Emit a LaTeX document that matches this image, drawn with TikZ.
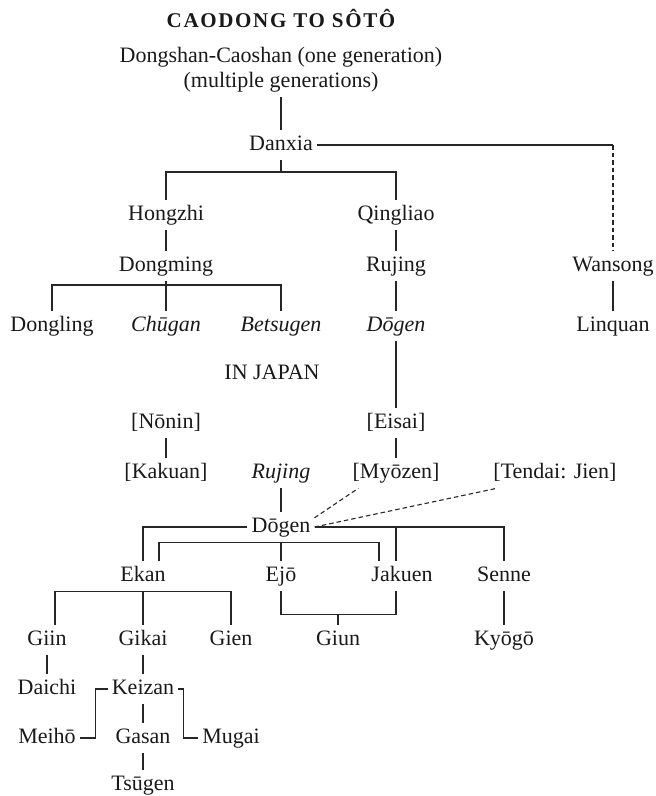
\documentclass[tikz,border=0pt]{standalone}
\usepackage{fontspec}
\setmainfont{Liberation Serif}
\usepackage{tikz}
\usetikzlibrary{calc}

\begin{document}
\begin{tikzpicture}[x=1pt,y=-1pt,
    nm/.style={anchor=base,font=\fontsize{22}{26}\selectfont,text=black!90,text height=15pt,text depth=5pt,inner xsep=4pt,inner ysep=5pt},
    it/.style={nm,font=\fontsize{22}{26}\selectfont\itshape},
    ln/.style={line width=1.1pt,black!85},
    dl/.style={ln,dash pattern=on 4.5pt off 3pt}]
    \useasboundingbox (0,0) rectangle (656,796) ;
    \node (ttl) at (281,27) [nm,font=\fontsize{21}{26}\selectfont\bfseries\addfontfeature{LetterSpace=8}] {CAODONG TO SÔTÔ} ;
    \node (dc) at (281,62) [nm] {Dongshan-Caoshan (one generation)} ;
    \node (mult) at (281,87) [nm] {(multiple generations)} ;
    \node (dan) at (281,150) [nm] {Danxia} ;
    \node (hong) at (166,220) [nm] {Hongzhi} ;
    \node (qing) at (396,220) [nm] {Qingliao} ;
    \node (dmg) at (166,271) [nm] {Dongming} ;
    \node (ruj) at (396,271) [nm] {Rujing} ;
    \node (wan) at (613,271) [nm] {Wansong} ;
    \node (dling) at (52,331) [nm] {Dongling} ;
    \node (chu) at (166,331) [it] {Chūgan} ;
    \node (bets) at (281,331) [it] {Betsugen} ;
    \node (dgc) at (396,331) [it] {Dōgen} ;
    \node (linq) at (613,331) [nm] {Linquan} ;
    \node (jpn) at (272,379) [nm] {IN JAPAN} ;
    \node (non) at (166,428) [nm] {[Nōnin]} ;
    \node (eis) at (396,428) [nm] {[Eisai]} ;
    \node (kak) at (166,478) [nm] {[Kakuan]} ;
    \node (rjj) at (281,478) [it] {Rujing} ;
    \node (myo) at (396,478) [nm] {[Myōzen]} ;
    \node (ten) at (555,478) [nm] {[Tendai: Jien]} ;
    \node (dgj) at (281,532) [nm] {Dōgen} ;
    \node (ekan) at (143,581) [nm] {Ekan} ;
    \node (ejo) at (281,581) [nm] {Ejō} ;
    \node (jak) at (402,581) [nm] {Jakuen} ;
    \node (sen) at (504,581) [nm] {Senne} ;
    \node (giin) at (47,645) [nm] {Giin} ;
    \node (gik) at (143,645) [nm] {Gikai} ;
    \node (gien) at (231,645) [nm] {Gien} ;
    \node (giun) at (338,645) [nm] {Giun} ;
    \node (kyo) at (504,645) [nm] {Kyōgō} ;
    \node (dai) at (47,694) [nm] {Daichi} ;
    \node (kei) at (143,694) [nm] {Keizan} ;
    \node (mei) at (47,743) [nm] {Meihō} ;
    \node (gas) at (143,743) [nm] {Gasan} ;
    \node (mug) at (231,743) [nm] {Mugai} ;
    \node (tsu) at (143,790) [nm] {Tsūgen} ;
    \coordinate (wc) at (dan.east -| wan) ;
    \coordinate (j1) at (281,172) ;
    \coordinate (j2) at (166,285) ;
    \coordinate (jt) at ([xshift=-6pt]jak.north) ;
    \coordinate (jb) at ([xshift=-6pt]jak.south) ;
    \coordinate (ji) at ([xshift=-23pt]jak.north) ;
    \coordinate (ei) at ([xshift=16pt]ekan.north) ;
    \coordinate (gi) at ([xshift=8pt]giin.north) ;
    \coordinate (gu) at ([yshift=10pt]giun.north) ;
    \draw[ln] (mult) -- (dan) ;
    \draw[ln] (dan) -- (wc) ;
    \draw[dl] (wc) -- (wan) ;
    \draw[ln] (wan) -- (linq) ;
    \draw[ln] (dan) -- (j1) ;
    \draw[ln] (hong) |- (j1) -| (qing) ;
    \draw[ln] (hong) -- (dmg) ;
    \draw[ln] (qing) -- (ruj) ;
    \draw[ln] (ruj) -- (dgc) ;
    \draw[ln] (dmg) -- (j2) ;
    \draw[ln] (dling) |- (j2) -| (bets) ;
    \draw[ln] (j2) -- (chu) ;
    \draw[ln] (dgc) -- (eis) ;
    \draw[ln] (eis) -- (myo) ;
    \draw[ln] (non) -- (kak) ;
    \draw[ln] (rjj) -- (dgj) ;
    \draw[dl] ([yshift=-6pt]dgj.north east) -- ([xshift=10pt]myo.south west) ;
    \draw[dl] (dgj.east) -- ([xshift=8pt]ten.south west) ;
    \draw[ln] (dgj) -| (ekan) ;
    \draw[ln] (dgj) -| (sen) ;
    \draw[ln] (jt) -- (jt |- dgj.east) ;
    \draw[ln] (ei) |- (dgj.south) -| (ji) ;
    \draw[ln] (dgj) -- (ejo) ;
    \draw[ln] (gi) |- (ekan.south) -| (gien) ;
    \draw[ln] (ekan) -- (gik) ;
    \draw[ln] (ejo) |- (gu) -| (jb) ;
    \draw[ln] (gu) -- (giun) ;
    \draw[ln] (sen) -- (kyo) ;
    \draw[ln] (giin) -- (dai) ;
    \draw[ln] (gik) -- (kei) ;
    \draw[ln] (kei.west) -- ++(-12,0) |- (mei.east) ;
    \draw[ln] (kei.east) -- ++(5,0) |- (mug.west) ;
    \draw[ln] (kei) -- (gas) ;
    \draw[ln] (gas) -- (tsu) ;
\end{tikzpicture}
\end{document}
